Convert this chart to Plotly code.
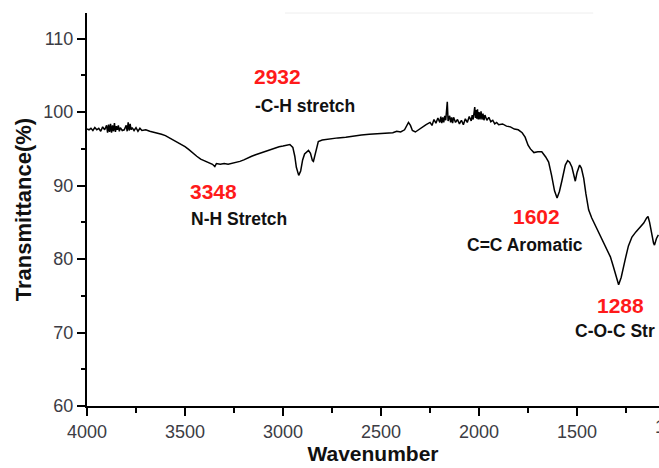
import plotly.graph_objects as go

# Wavenumber (cm^-1) and transmittance (%)
wavenumber = [
    4000, 3990, 3980, 3970, 3960, 3950, 3940, 3930, 3920, 3910, 3900, 3895, 3890, 3885,
    3880, 3875, 3870, 3865, 3860, 3855, 3850, 3845, 3840, 3835, 3830, 3820, 3810, 3800,
    3795, 3790, 3785, 3780, 3775, 3770, 3760, 3750, 3740, 3730,
    3720, 3700, 3680, 3660, 3640, 3620, 3600, 3580, 3560, 3540, 3520, 3500, 3480, 3460,
    3440, 3420, 3400, 3380, 3360, 3348, 3340, 3320, 3300, 3280, 3260, 3240, 3220, 3200,
    3180, 3160, 3140, 3120, 3100, 3080, 3060, 3040, 3020, 3000, 2980, 2965, 2950, 2940,
    2932, 2920, 2910, 2900, 2890, 2880, 2870, 2860, 2850, 2845, 2835, 2820, 2800, 2780,
    2760, 2720, 2680, 2640, 2600, 2560, 2520, 2480, 2440, 2420, 2400, 2380, 2360, 2350,
    2340, 2325, 2310, 2290, 2270, 2250, 2240, 2230, 2220, 2210, 2200, 2195, 2190, 2185,
    2180, 2175, 2170, 2162, 2158, 2150, 2145, 2140, 2135, 2130, 2120, 2110, 2100, 2090,
    2080, 2070, 2060, 2050, 2040, 2035, 2030, 2022, 2018, 2015, 2012, 2008, 2004, 2000,
    1995, 1990, 1985, 1980, 1975, 1970, 1960, 1950, 1940, 1930, 1920, 1910,
    1900, 1880, 1860, 1840, 1820, 1800, 1780, 1765, 1750, 1738, 1720, 1700, 1680, 1660,
    1645, 1630, 1615, 1602, 1590, 1577, 1560, 1548, 1538, 1526, 1515, 1509, 1500, 1487,
    1478, 1466, 1455, 1441, 1425, 1407, 1385, 1364, 1345, 1330, 1315, 1300, 1288, 1275,
    1262, 1254, 1238, 1220, 1200, 1177, 1160, 1145, 1138, 1130, 1122, 1110, 1105, 1095,
    1085,
]
transmittance = [
    97.7, 97.6, 97.8, 97.5, 97.9, 97.6, 97.8, 97.4, 98.0, 97.6, 98.2, 97.2, 98.3, 97.3,
    98.4, 97.2, 98.2, 97.4, 98.5, 97.3, 98.1, 97.6, 98.2, 97.4, 97.9, 97.5, 97.6, 98.2,
    97.4, 98.6, 97.5, 98.4, 97.6, 97.9, 97.5, 97.9, 97.4, 97.8,
    97.5, 97.6, 97.4, 97.3, 97.1, 97.0, 96.8, 96.5, 96.3, 95.9, 95.7, 95.3, 94.9, 94.4,
    94.0, 93.6, 93.4, 93.1, 92.9, 92.6, 93.0, 92.9, 93.0, 92.9, 93.0, 93.1, 93.3, 93.5,
    93.8, 94.0, 94.2, 94.4, 94.6, 94.8, 95.0, 95.2, 95.3, 95.4, 95.5, 95.6, 95.2, 94.0,
    92.5, 91.4, 92.0, 93.5, 94.3, 94.6, 94.8, 94.4, 93.4, 93.3, 94.5, 96.0, 96.2, 96.3,
    96.4, 96.5, 96.6, 96.8, 96.9, 97.0, 97.1, 97.2, 97.2, 97.4, 97.3, 97.6, 98.6, 98.2,
    97.5, 97.3, 97.6, 97.9, 98.3, 98.6, 98.2, 99.0, 98.5, 99.2, 98.6, 99.4, 98.5, 99.3,
    98.6, 99.5, 98.9, 101.4, 98.8, 99.5, 98.6, 99.3, 98.5, 99.3, 98.6, 99.0, 98.4, 98.9,
    98.3, 99.1, 98.6, 99.4, 98.8, 99.6, 99.0, 100.7, 99.2, 100.3, 99.1, 100.4, 99.0, 100.0,
    99.0, 100.1, 99.0, 99.8, 98.9, 99.6, 98.9, 99.3, 98.7, 98.9, 98.4, 98.6,
    98.3, 98.4, 98.1, 98.0, 97.7, 97.6, 97.2, 96.6, 95.5, 95.0, 94.5, 94.6, 94.6, 93.9,
    93.2, 91.4, 89.3, 88.3, 89.2, 90.7, 92.8, 93.4, 93.2, 92.5, 91.0, 90.6, 91.8, 92.8,
    92.4, 91.0, 88.9, 86.7, 85.6, 84.6, 83.3, 82.1, 81.2, 80.3, 79.0, 77.5, 76.5, 77.5,
    79.2, 80.0, 81.8, 83.0, 83.7, 84.4, 84.9, 85.6, 85.8, 85.0, 83.7, 82.2, 81.9, 82.8,
    83.3,
]

# Peak labels
peak_values = ["2932", "3348", "1602", "1288"]
peak_x = [3029, 3356, 1708, 1279]
peak_y = [104.9, 89.25, 85.85, 73.75]
assign_text = ["-C-H stretch", "N-H Stretch", "C=C Aromatic", "C-O-C Str"]
assign_x = [3151, 3478, 2070, 1519]
assign_y = [100.8, 85.4, 81.9, 70.2]

x_ticks = [4000, 3500, 3000, 2500, 2000, 1500, 1000]
y_ticks = [60, 70, 80, 90, 100, 110]

FONT = "Liberation Sans, Arial, sans-serif"
TICK_COLOR = "#3c3c44"

fig = go.Figure()
fig.add_trace(go.Scatter(
    x=wavenumber, y=transmittance, mode="lines",
    line=dict(color="black", width=1.5), showlegend=False,
))

annotations = []
for t, x, y in zip(peak_values, peak_x, peak_y):
    annotations.append(dict(x=x, y=y, xref="x", yref="y", text=t, showarrow=False,
                            xanchor="center", yanchor="middle",
                            font=dict(family=FONT, size=21, color="#ff1a1a", weight="bold")))
for t, x, y in zip(assign_text, assign_x, assign_y):
    annotations.append(dict(x=x, y=y, xref="x", yref="y", text=t, showarrow=False,
                            xanchor="left", yanchor="middle",
                            font=dict(family=FONT, size=17.5, color="#111111", weight="bold")))
# cut-off 1000 tick label at the right edge of the image (as in the reference)
annotations.append(dict(x=1.0274, y=0, xref="paper", yref="paper", yshift=-21, text="1000",
                        showarrow=False, xanchor="center", yanchor="middle",
                        font=dict(family=FONT, size=18, color=TICK_COLOR)))

fig.update_layout(
    width=659, height=468,
    margin=dict(l=87, r=0, t=13, b=62),
    paper_bgcolor="white", plot_bgcolor="white",
    font=dict(family=FONT),
    annotations=annotations,
    shapes=[dict(type="line", xref="paper", yref="paper", x0=0.346, x1=0.885, y0=1, y1=1,
                 line=dict(color="#eeeeee", width=1))],
)
fig.update_xaxes(
    range=[4000, 1082], tickvals=x_ticks, showgrid=False, zeroline=False,
    showline=True, linecolor="black", linewidth=2,
    ticks="outside", ticklen=8, tickwidth=2, tickcolor="black",
    tickfont=dict(family=FONT, size=18, color=TICK_COLOR),
    minor=dict(dtick=250, tick0=0, ticks="outside", ticklen=5, tickwidth=2, tickcolor="black"),
    title=dict(text="Wavenumber", standoff=6,
               font=dict(family=FONT, size=21, color="#111111", weight="bold")),
)
fig.update_yaxes(
    range=[60, 113.5], tickvals=y_ticks, showgrid=False, zeroline=False,
    showline=True, linecolor="black", linewidth=2,
    ticks="outside", ticklen=8, tickwidth=2, tickcolor="black",
    tickfont=dict(family=FONT, size=18, color=TICK_COLOR),
    minor=dict(dtick=5, tick0=0, ticks="outside", ticklen=4, tickwidth=2, tickcolor="black"),
    title=dict(text="Transmittance(%)", standoff=6,
               font=dict(family=FONT, size=22, color="#111111", weight="bold")),
)

fig.write_html("out.html")
